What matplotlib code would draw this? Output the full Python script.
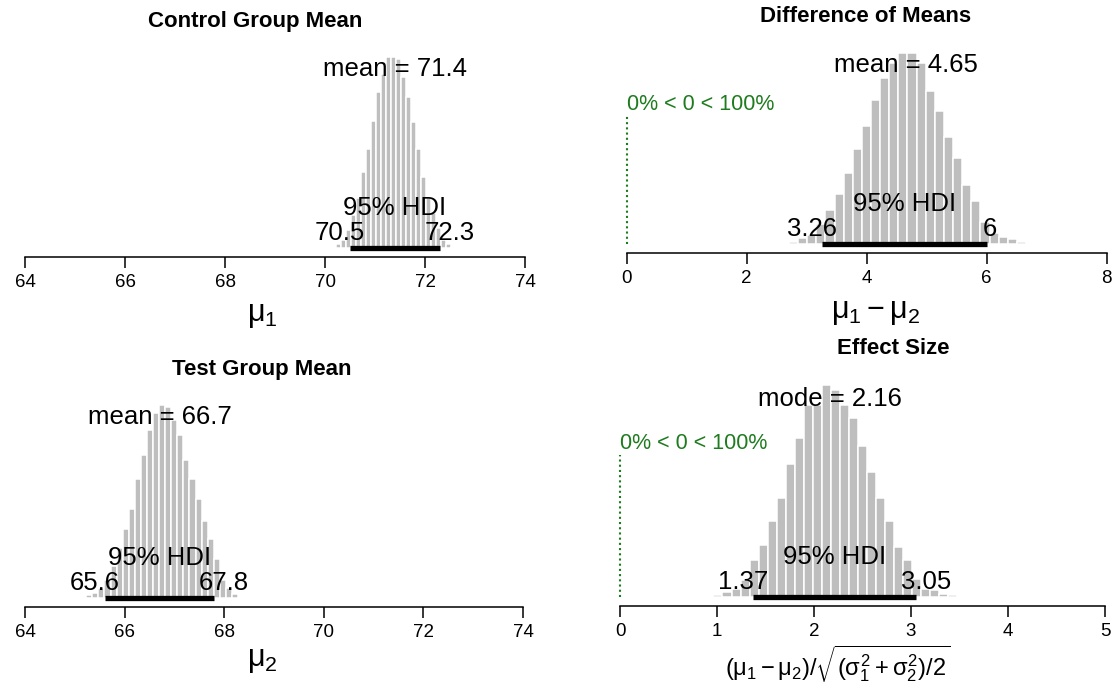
import matplotlib
matplotlib.use('Agg')
import matplotlib.pyplot as plt
import matplotlib.transforms as mtransforms
import numpy as np

plt.rcParams['font.family'] = ['Liberation Sans', 'DejaVu Sans']
plt.rcParams['mathtext.fontset'] = 'custom'
plt.rcParams['mathtext.rm'] = 'Liberation Sans'
plt.rcParams['mathtext.it'] = 'Liberation Sans'
plt.rcParams['mathtext.bf'] = 'Liberation Sans:bold'

# ---------------- data ----------------
mu1_bin_start, mu1_bin_width = 70.17, 0.100
mu1_heights = [4, 11, 24, 54, 99, 149, 227, 299, 381, 469, 524, 574, 574,
               569, 514, 454, 379, 297, 214, 149, 104, 59, 24, 11, 4]
mu1_center, mu1_hdi = 71.4, (70.5, 72.3)
mu1_labels = ("mean = 71.4", "70.5", "72.3")

mu2_bin_start, mu2_bin_width = 65.29, 0.122
mu2_heights = [9, 16, 30, 55, 95, 150, 205, 265, 355, 425, 500, 550, 575,
               570, 530, 485, 410, 355, 295, 230, 175, 115, 55, 30, 12]
mu2_center, mu2_hdi = 66.7, (65.6, 67.8)
mu2_labels = ("mean = 66.7", "65.6", "67.8")

diff_bin_start, diff_bin_width = 2.78, 0.152
diff_heights = [7, 17, 27, 60, 102, 149, 214, 286, 354, 434, 499, 544, 574,
                574, 544, 460, 399, 322, 257, 178, 128, 67, 32, 22, 14, 7]
diff_center, diff_hdi = 4.65, (3.26, 6.0)
diff_labels = ("mean = 4.65", "3.26", "6")

eff_bin_start, eff_bin_width = 1.01, 0.093
eff_heights = [5, 15, 25, 50, 110, 157, 228, 298, 398, 475, 575, 575, 635,
               620, 575, 535, 452, 375, 298, 228, 150, 112, 55, 25, 20, 10, 5]
eff_center, eff_hdi = 2.16, (1.37, 3.05)
eff_labels = ("mode = 2.16", "1.37", "3.05")

comp_value = 0
comp_text = "0% < 0 < 100%"

ticks_mu = [64, 66, 68, 70, 72, 74]
ticks_diff = [0, 2, 4, 6, 8]
ticks_eff = [0, 1, 2, 3, 4, 5]

titles = ["Control Group Mean", "Difference of Means", "Test Group Mean", "Effect Size"]
xlabels = [r"$\mathregular{\mu_1}$", r"$\mathregular{\mu_1 - \mu_2}$", r"$\mathregular{\mu_2}$",
           r"$(\mu_1 - \mu_2)/\sqrt{(\sigma_1^2 + \sigma_2^2)/2}$"]

# ---------------- figure ----------------
W, H, DPI = 1118, 685, 100
fig = plt.figure(figsize=(W / DPI, H / DPI), dpi=DPI)
renderer = fig.canvas.get_renderer()

BAR_COL = "#BEBEBE"
GREEN = "#1E7B1E"
TXT = 18.5


def make_axes(x0, x1, base, top):
    return fig.add_axes([x0 / W, 1 - base / H, (x1 - x0) / W, (base - top) / H])


def panel(ax, start, width, heights, xlim, ticks, center, hdi, labels, comp=False):
    heights = np.asarray(heights, float)
    centers = start + width * np.arange(len(heights))
    ax.bar(centers, heights, width=width, color=BAR_COL, edgecolor="white",
           linewidth=1.1, clip_on=False)
    hmax = heights.max()
    ax.set_xlim(*xlim)
    ax.set_ylim(0, hmax)
    for s in ["top", "right", "left"]:
        ax.spines[s].set_visible(False)
    ax.spines["bottom"].set_position(("outward", 6.5))
    ax.spines["bottom"].set_bounds(ticks[0], ticks[-1])
    ax.spines["bottom"].set_linewidth(1.1)
    ax.set_yticks([])
    ax.set_xticks(ticks)
    ax.set_xticklabels([str(t) for t in ticks])
    ax.tick_params(axis="x", direction="out", length=8, width=1.1, pad=4,
                   labelsize=13.5)
    ax.patch.set_visible(False)
    # HDI bar
    ax.plot(hdi, [0, 0], color="black", lw=3.8, solid_capstyle="butt", clip_on=False)
    # central tendency
    ax.text(center, 0.9 * hmax, labels[0], ha="center", va="baseline", fontsize=TXT)
    # 95% HDI
    ax.text(np.mean(hdi), 0, "95% HDI", ha="center", va="baseline", fontsize=TXT,
            transform=mtransforms.offset_copy(ax.transData, fig=fig, x=0, y=33, units="dots"))
    # HDI end values
    for xv, lab, frac in [(hdi[0], labels[1], 0.7), (hdi[1], labels[2], 0.3)]:
        t = ax.text(xv, 0, lab, ha="left", va="baseline", fontsize=TXT)
        w = t.get_window_extent(renderer).width
        t.set_transform(mtransforms.offset_copy(ax.transData, fig=fig,
                                                x=-frac * w, y=8, units="dots"))
    if comp:
        ax.plot([comp_value, comp_value], [0, 0.96 * 0.7 * hmax], ls=(0, (1, 1.5)),
                lw=1.5, color=GREEN, clip_on=False)
        ax.text(comp_value, 0.7 * hmax, comp_text, ha="left", va="baseline",
                fontsize=15.5, color=GREEN)


ax1 = make_axes(25, 525, 248, 57)
panel(ax1, mu1_bin_start, mu1_bin_width, mu1_heights, (64, 74), ticks_mu,
      mu1_center, mu1_hdi, mu1_labels)
ax2 = make_axes(626.7, 1106.7, 244, 53)
panel(ax2, diff_bin_start, diff_bin_width, diff_heights, (0, 8), ticks_diff,
      diff_center, diff_hdi, diff_labels, comp=True)
ax3 = make_axes(25, 523, 598, 405)
panel(ax3, mu2_bin_start, mu2_bin_width, mu2_heights, (64, 74), ticks_mu,
      mu2_center, mu2_hdi, mu2_labels)
ax4 = make_axes(620, 1105, 597, 385)
panel(ax4, eff_bin_start, eff_bin_width, eff_heights, (0, 5), ticks_eff,
      eff_center, eff_hdi, eff_labels, comp=True)

# titles
for txt, (x, y) in zip(titles, [(255, 22), (866, 17), (262, 370), (893, 349)]):
    fig.text(x / W, 1 - y / H, txt, ha="center", va="center", fontsize=16,
             fontweight="bold")

# axis labels
for txt, (x, y), fs in zip(xlabels, [(262, 315), (876, 312), (262, 660), (838, 664)],
                           [22, 22, 22, 17]):
    fig.text(x / W, 1 - y / H, txt, ha="center", va="center", fontsize=fs)

fig.savefig("out.png", dpi=DPI)
